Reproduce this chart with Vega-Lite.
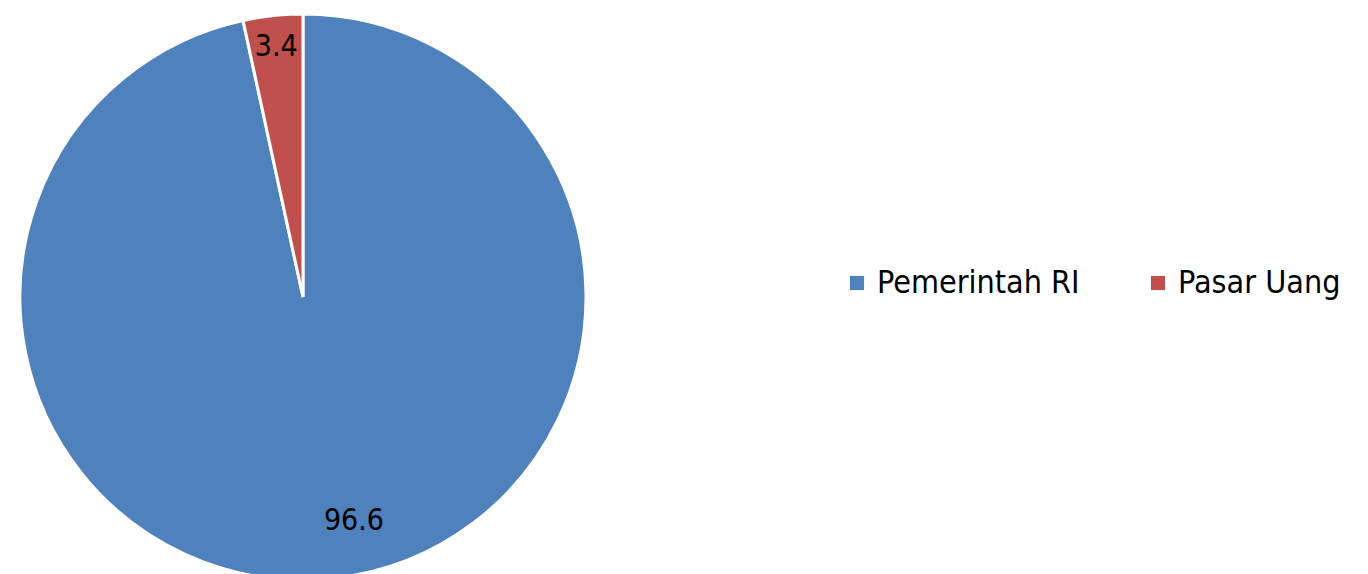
{
  "$schema": "https://vega.github.io/schema/vega-lite/v6.json",
  "width": 606,
  "height": 594,
  "padding": 0,
  "background": "white",
  "config": {"view": {"stroke": null}, "font": "DejaVu Sans Condensed"},
  "data": {"values": [
    {"cat": "Pemerintah RI", "value": 96.6},
    {"cat": "Pasar Uang", "value": 3.4}
  ]},
  "encoding": {
    "theta": {"field": "value", "type": "quantitative", "stack": true},
    "order": {"field": "cat", "sort": "descending"}
  },
  "layer": [
    {
      "mark": {"type": "arc", "outerRadius": 283, "stroke": "white", "strokeWidth": 3},
      "encoding": {
        "color": {
          "field": "cat", "type": "nominal",
          "scale": {"domain": ["Pemerintah RI", "Pasar Uang"], "range": ["#4F81BD", "#C0504D"]},
          "legend": {
            "title": null, "orient": "none", "direction": "horizontal",
            "legendX": 841, "legendY": 267, "padding": 0,
            "symbolType": "square", "symbolSize": 200, "symbolStrokeWidth": 0,
            "labelFontSize": 32, "labelFont": "DejaVu Sans Condensed", "labelColor": "black",
            "labelOffset": 4, "columnPadding": 62, "labelLimit": 400
          }
        }
      }
    },
    {
      "mark": {"type": "text", "radius": 251, "fontSize": 30, "color": "black"},
      "encoding": {
        "detail": {"field": "cat"},
        "text": {"condition": {"test": "datum.cat === 'Pasar Uang'", "field": "value", "type": "quantitative", "format": ".1f"}, "value": ""}
      }
    },
    {
      "mark": {"type": "text", "radius": 225, "dx": 27, "fontSize": 30, "color": "black"},
      "encoding": {
        "detail": {"field": "cat"},
        "text": {"condition": {"test": "datum.cat === 'Pemerintah RI'", "field": "value", "type": "quantitative", "format": ".1f"}, "value": ""}
      }
    }
  ]
}
